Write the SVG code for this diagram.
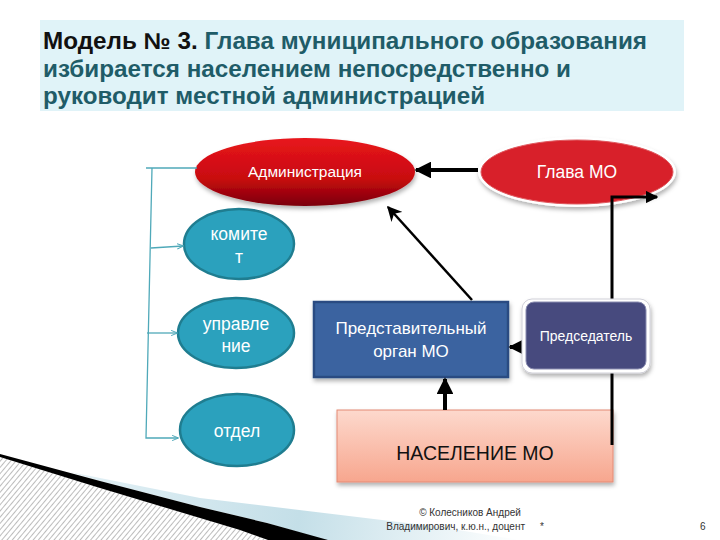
<svg xmlns="http://www.w3.org/2000/svg" width="720" height="540" viewBox="0 0 720 540">
<defs>
  <style>
    .title{font-family:"Liberation Sans",Arial,sans-serif;font-size:23px;font-weight:bold;fill:#1f5c68}
    .wt{font-family:"Liberation Sans",Arial,sans-serif;fill:#ffffff;text-anchor:middle}
    .teal{fill:#2ba1bd;stroke:#1f7d90;stroke-width:2.5}
    .br{stroke:#4fa9b9;stroke-width:1.3;fill:none}
    .thick{stroke:#000;stroke-width:4;fill:none}
    .foot{font-family:"Liberation Sans",Arial,sans-serif;font-size:10px;fill:#333}
  </style>
  <linearGradient id="gAdm" x1="0" y1="0" x2="0" y2="1">
    <stop offset="0" stop-color="#e8161c"/>
    <stop offset="0.6" stop-color="#c80a10"/>
    <stop offset="1" stop-color="#7a0008"/>
  </linearGradient>
  <linearGradient id="gNas" x1="0" y1="0" x2="0" y2="1">
    <stop offset="0" stop-color="#fdd9cd"/>
    <stop offset="1" stop-color="#f7a68e"/>
  </linearGradient>
  <linearGradient id="gBlue" gradientUnits="userSpaceOnUse" x1="80" y1="480" x2="520" y2="540">
    <stop offset="0" stop-color="#e2f0f5"/>
    <stop offset="0.5" stop-color="#c4dfe8"/>
    <stop offset="1" stop-color="#ffffff"/>
  </linearGradient>
  <pattern id="hatch" width="4" height="4" patternUnits="userSpaceOnUse" patternTransform="rotate(40)">
    <rect width="4" height="4" fill="#ffffff"/>
    <line x1="0" y1="0" x2="0" y2="4" stroke="#a0a0a0" stroke-width="1.4"/>
  </pattern>
  <marker id="ah" viewBox="0 0 10 10" refX="9" refY="5" markerWidth="4.2" markerHeight="4.2" orient="auto" markerUnits="strokeWidth">
    <path d="M0,0 L10,5 L0,10 z" fill="#000"/>
  </marker>
  <marker id="ahThin" viewBox="0 0 10 10" refX="9" refY="5" markerWidth="6" markerHeight="6" orient="auto" markerUnits="strokeWidth">
    <path d="M0,0 L10,5 L0,10 L3,5 z" fill="#000"/>
  </marker>
  <marker id="ahT" viewBox="0 0 10 10" refX="9" refY="5" markerWidth="5" markerHeight="5" orient="auto" markerUnits="strokeWidth">
    <path d="M0,1 L10,5 L0,9" fill="none" stroke="#4fa9b9" stroke-width="1.5"/>
  </marker>
  <filter id="sh" x="-20%" y="-20%" width="140%" height="150%">
    <feDropShadow dx="1" dy="3" stdDeviation="2" flood-color="#000" flood-opacity="0.3"/>
  </filter>
</defs>

<rect width="720" height="540" fill="#ffffff"/>

<!-- bottom-left decoration -->
<g id="decoration">
  <polygon points="70,472 200,498 440,527 520,540 325,540 267,523 200,507 100,481" fill="url(#gBlue)"/>
  <polygon points="0,457 100,488 200,518 240,530 268,540 0,540" fill="url(#hatch)"/>
  <polygon points="0,454 100,481 200,507 267,523 328,540 268,540 240,530 200,518 100,488 0,457" fill="#000"/>
</g>

<!-- title -->
<g id="title">
  <rect x="40" y="20" width="644" height="91" fill="#e0f3f8"/>
  <text class="title" x="43" y="49" textLength="604" lengthAdjust="spacingAndGlyphs"><tspan fill="#111">Модель № 3.</tspan> Глава муниципального образования</text>
  <text class="title" x="43" y="77" textLength="528" lengthAdjust="spacingAndGlyphs">избирается населением непосредственно и</text>
  <text class="title" x="43" y="104" textLength="442" lengthAdjust="spacingAndGlyphs">руководит местной администрацией</text>
</g>

<!-- nodes (behind connectors) -->
<g id="administracia">
  <ellipse cx="305" cy="172" rx="110" ry="34" fill="url(#gAdm)" filter="url(#sh)"/>
  <text class="wt" x="305" y="177" font-size="15.5">Администрация</text>
</g>

<g id="glava">
  <ellipse cx="577" cy="172" rx="99" ry="35" fill="#ffffff" filter="url(#sh)"/>
  <ellipse cx="577" cy="172" rx="96" ry="32" fill="#d8202a" stroke="#e05a60" stroke-width="1"/>
  <text class="wt" x="577" y="178" font-size="17.5">Глава МО</text>
</g>

<g id="komitet">
  <ellipse class="teal" cx="239" cy="244" rx="55" ry="35"/>
  <text class="wt" x="239" y="240" font-size="17.5">комите</text>
  <text class="wt" x="239" y="263" font-size="17.5">т</text>
</g>

<g id="upravlenie">
  <ellipse class="teal" cx="236" cy="333" rx="58" ry="35"/>
  <text class="wt" x="236" y="330" font-size="17.5">управле</text>
  <text class="wt" x="236" y="352" font-size="17.5">ние</text>
</g>

<g id="otdel">
  <ellipse class="teal" cx="237" cy="430" rx="57" ry="36"/>
  <text class="wt" x="237" y="437" font-size="17.5">отдел</text>
</g>

<g id="predstavitelny">
  <rect x="314" y="302" width="194" height="75" fill="#3a64a0" stroke="#2a4c82" stroke-width="2.5" filter="url(#sh)"/>
  <text class="wt" x="411" y="334" font-size="17">Представительный</text>
  <text class="wt" x="411" y="357" font-size="17">орган МО</text>
</g>

<g id="naselenie">
  <rect x="337" y="410" width="276" height="72" fill="url(#gNas)" stroke="#e48a74" stroke-width="1" filter="url(#sh)"/>
  <text x="475" y="460" font-family="'Liberation Sans',Arial,sans-serif" font-size="19.5" fill="#111" text-anchor="middle">НАСЕЛЕНИЕ МО</text>
</g>

<!-- connectors -->
<g id="connectors">
  <polyline class="br" points="197,168 146,168"/>
  <polyline class="br" points="152,168 146,438 178,438" marker-end="url(#ahT)"/>
  <line class="br" x1="151" y1="248" x2="183" y2="246" marker-end="url(#ahT)"/>
  <line class="br" x1="147" y1="333" x2="177" y2="333" marker-end="url(#ahT)"/>
  <line class="thick" x1="478" y1="170" x2="416" y2="170" marker-end="url(#ah)"/>
  <line stroke="#000" stroke-width="2.5" x1="472" y1="300" x2="388" y2="207" marker-end="url(#ahThin)"/>
  <line class="thick" x1="445" y1="410" x2="445" y2="379" marker-end="url(#ah)"/>
  <line class="thick" x1="524" y1="347" x2="510" y2="347" marker-end="url(#ah)"/>
  <polyline stroke="#000" stroke-width="3" fill="none" points="612,445 612,197 657,197" marker-end="url(#ah)"/>
</g>

<!-- predsedatel drawn over the line -->
<g id="predsedatel">
  <rect x="522" y="299" width="128" height="74" rx="10" fill="#ffffff" stroke="#d0d0d8" stroke-width="1" filter="url(#sh)"/>
  <rect x="526" y="302" width="120" height="67" rx="8" fill="#474a7e" stroke="#8a8cb0" stroke-width="1"/>
  <text class="wt" x="586" y="341" font-size="14">Председатель</text>
</g>

<!-- footer -->
<g id="footer">
  <text class="foot" x="470" y="516" text-anchor="middle">© Колесников Андрей</text>
  <text class="foot" x="525" y="530" text-anchor="end">Владимирович, к.ю.н., доцент</text>
  <text class="foot" x="540" y="530">*</text>
  <text class="foot" x="700" y="530">6</text>
</g>
</svg>
